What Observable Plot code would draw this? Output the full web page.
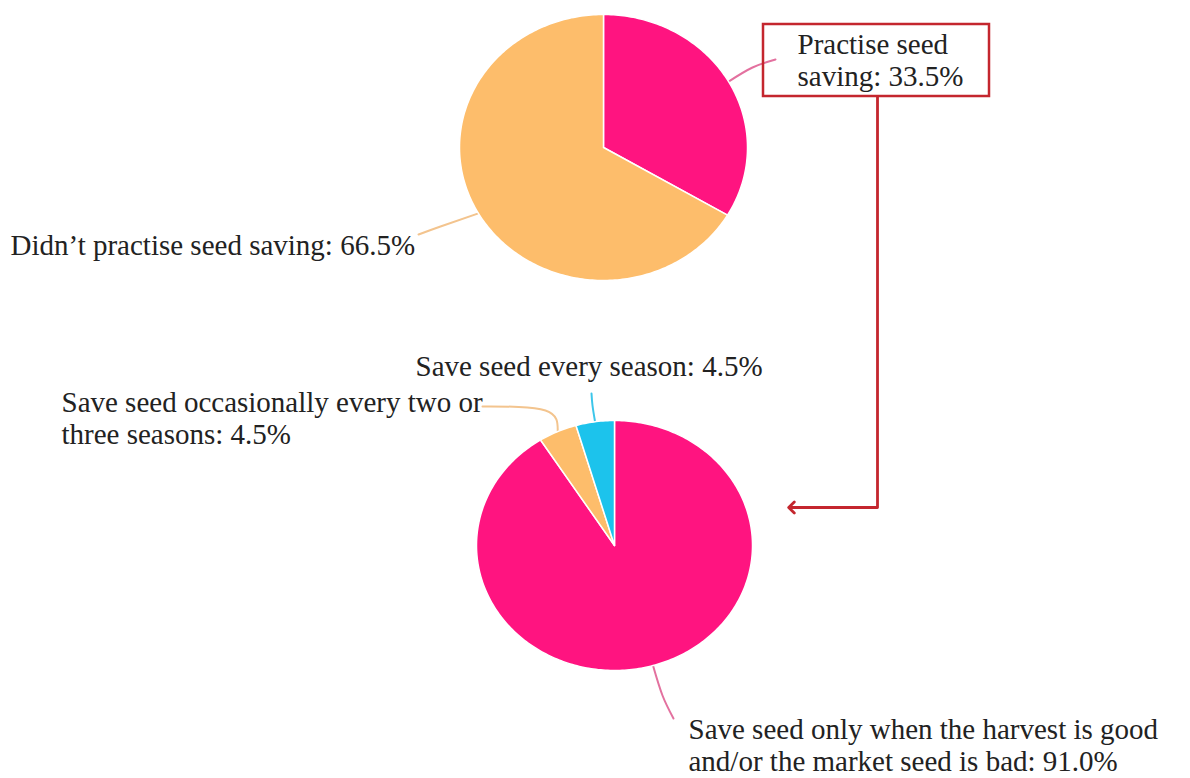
<!DOCTYPE html>
<html>
<head>
<meta charset="utf-8">
<script src="https://cdn.jsdelivr.net/npm/d3@7"></script>
<script src="https://cdn.jsdelivr.net/npm/@observablehq/plot@0.6"></script>
<style>
  html, body { margin: 0; padding: 0; background: #fff; }
  #chart { width: 1190px; height: 778px; }
</style>
</head>
<body>
<div id="chart"></div>
<script>
// ---- Data ----
const topCategories = ["Practise seed saving", "Didn’t practise seed saving"];
const topValues = [33.5, 66.5];
const topColors = ["#ff1480", "#fdbd6b"];
const topLabels = ["Practise seed\nsaving: 33.5%", "Didn’t practise seed saving: 66.5%"];

const bottomCategories = [
  "Save seed only when the harvest is good and/or the market seed is bad",
  "Save seed occasionally every two or three seasons",
  "Save seed every season"
];
const bottomValues = [91.0, 4.5, 4.5];
const bottomColors = ["#ff1480", "#fdbd6b", "#1cc3ec"];
const bottomLabels = [
  "Save seed only when the harvest is good\nand/or the market seed is bad: 91.0%",
  "Save seed occasionally every two or\nthree seasons: 4.5%",
  "Save seed every season: 4.5%"
];
const leaderColors = ["#e3719f", "#f3c48e", "#3cc6ea"];

// ---- Layout (pixel space) ----
const W = 1190, H = 778;
const pies = [
  {id: "top", cx: 603, cy: 147, rx: 144, ry: 133, cats: topCategories, vals: topValues, cols: topColors, labels: topLabels,
   leaderEnds: [[[752, 67], [775, 59]], [[440, 226], [418, 234]]],
   labelPos: [[797, 85], [10, 254]],
   leaderCols: [leaderColors[0], leaderColors[1]]},
  {id: "bottom", cx: 614, cy: 545, rx: 138, ry: 125, cats: bottomCategories, vals: bottomValues, cols: bottomColors, labels: bottomLabels,
   leaderEnds: [[[662, 695], [673, 718]], [[545, 410], [482, 406]], [[592, 405], [591, 393]]],
   labelPos: [[688, 770], [61, 443], [415, 375]],
   leaderCols: [leaderColors[0], leaderColors[1], leaderColors[2]]}
];

const pt = (p, a) => [p.cx + p.rx * Math.sin(a), p.cy - p.ry * Math.cos(a)];

const slicePts = [];
const leaderPts = [];
const labelRows = [];
for (const p of pies) {
  const arcs = d3.pie().sort(null).value(d => d)(p.vals);
  arcs.forEach((a, i) => {
    const key = p.id + i;
    slicePts.push({key, x: p.cx, y: p.cy, fill: p.cols[i]});
    const n = Math.max(2, Math.ceil((a.endAngle - a.startAngle) / (Math.PI / 180)));
    for (let j = 0; j <= n; j++) {
      const ang = a.startAngle + (a.endAngle - a.startAngle) * j / n;
      const [x, y] = pt(p, ang);
      slicePts.push({key, x, y, fill: p.cols[i]});
    }
    const mid = (a.startAngle + a.endAngle) / 2;
    const [sx, sy] = pt(p, mid);
    leaderPts.push({key, x: sx, y: sy, stroke: p.leaderCols[i]});
    for (const [ex, ey] of p.leaderEnds[i]) leaderPts.push({key, x: ex, y: ey, stroke: p.leaderCols[i]});
    const [lx, ly] = p.labelPos[i];
    labelRows.push({x: lx, y: ly, text: p.labels[i]});
  });
}

// Box around the "Practise seed saving" label and connecting arrow
const box = [{x1: 763, x2: 989, y1: 24, y2: 96}];
const arrowPath = [{x: 877, y: 96}, {x: 877, y: 507}, {x: 791, y: 507}];
const red = "#c4262e";

const chart = Plot.plot({
  width: W,
  height: H,
  margin: 0,
  x: {domain: [0, W], range: [0, W], axis: null},
  y: {domain: [0, H], range: [0, H], axis: null},
  color: {type: "identity"},
  style: {background: "#fff"},
  marks: [
    Plot.line(leaderPts, {x: "x", y: "y", z: "key", stroke: "stroke", strokeWidth: 2, curve: "natural"}),
    Plot.line(slicePts, {x: "x", y: "y", z: "key", fill: "fill", stroke: "#fff", strokeWidth: 1.5, curve: "linear-closed", strokeLinejoin: "round"}),
    Plot.rect(box, {x1: "x1", x2: "x2", y1: "y1", y2: "y2", fill: "none", stroke: red, strokeWidth: 2.5}),
    Plot.line(arrowPath, {x: "x", y: "y", stroke: red, strokeWidth: 2.8, markerEnd: "arrow"}),
    Plot.text(labelRows, {
      x: "x", y: "y", text: "text", textAnchor: "start", lineAnchor: "bottom",
      lineHeight: 1.07, fontSize: 29, fontFamily: "Liberation Serif", fill: "#222"
    })
  ]
});
document.getElementById("chart").appendChild(chart);
</script>
</body>
</html>
